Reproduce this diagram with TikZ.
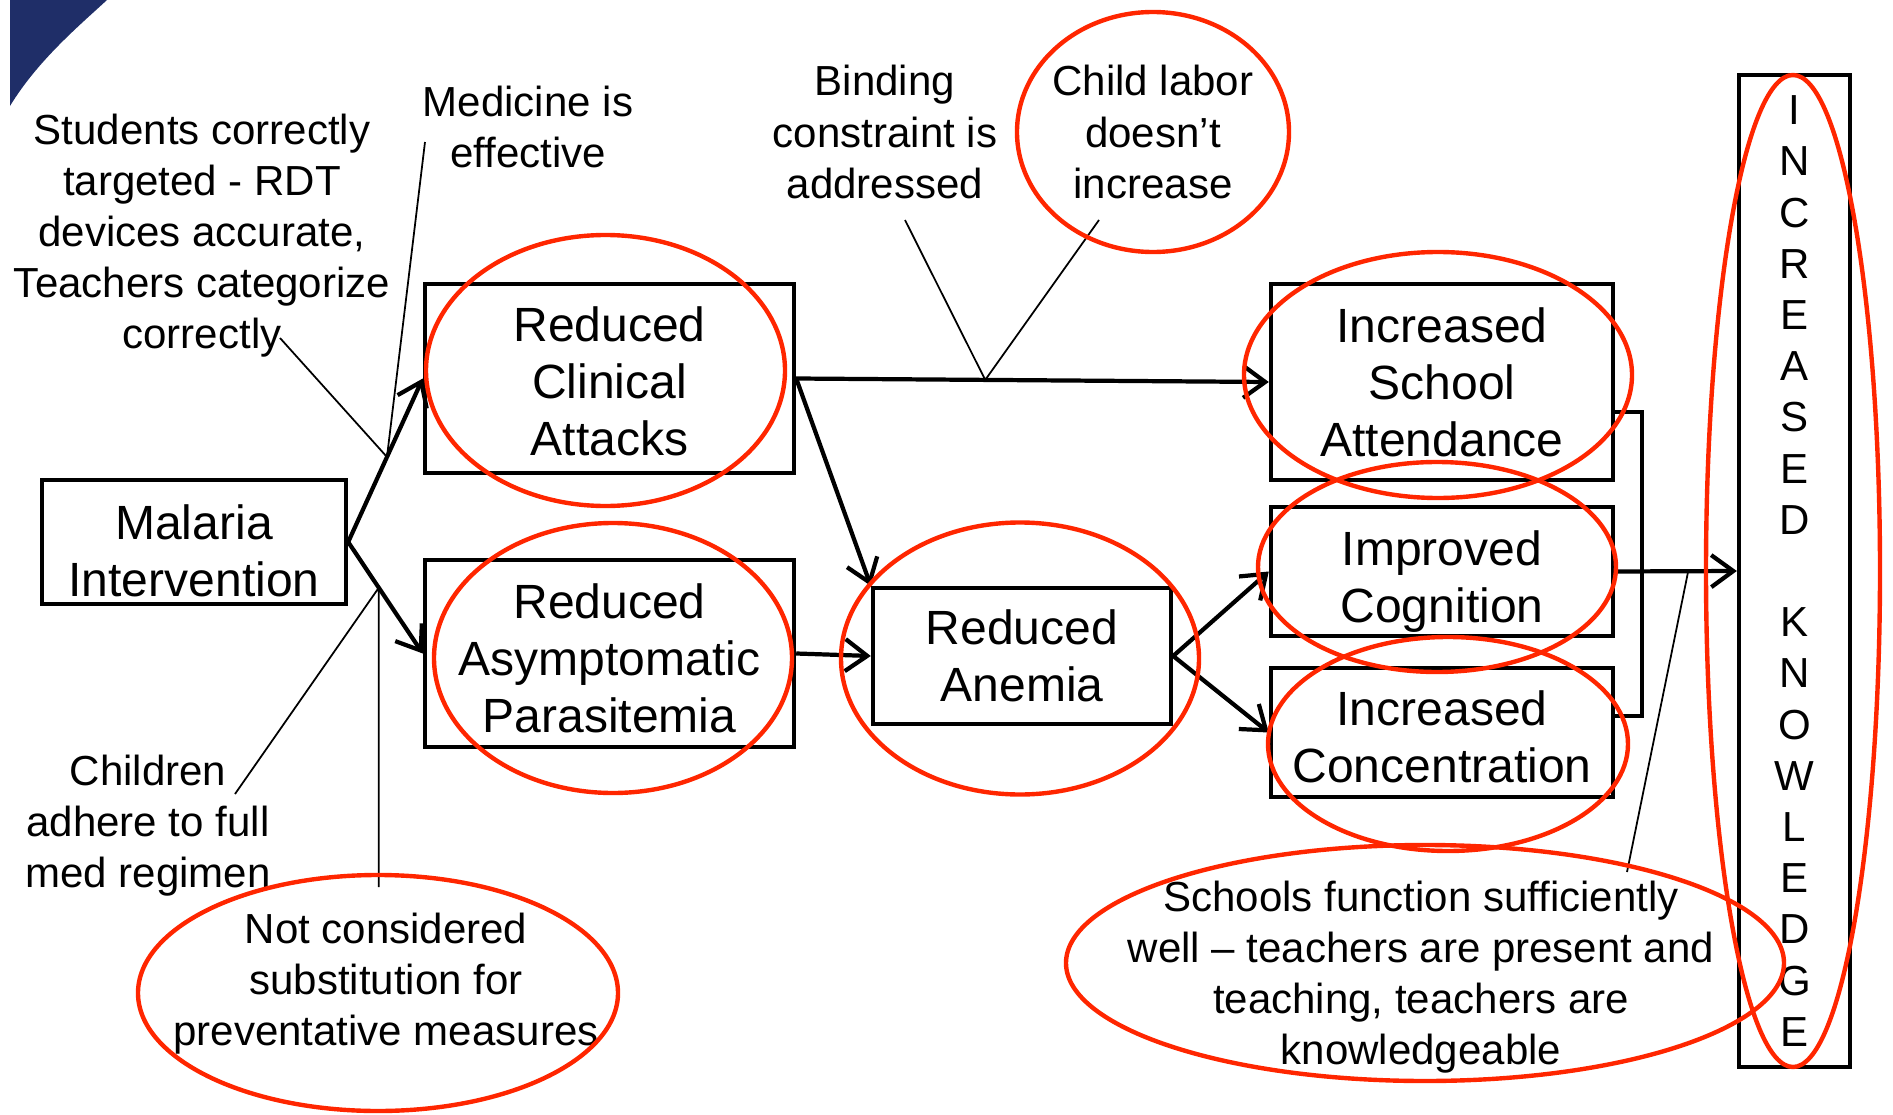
\documentclass[tikz,border=0pt]{standalone}
\usepackage{fontspec}
\setmainfont{Liberation Sans}
\usetikzlibrary{arrows.meta,calc}
\definecolor{ovalred}{RGB}{255,38,0}
\definecolor{navyblue}{RGB}{31,46,104}
\newcommand\bxfont{\fontsize{13.66pt}{16.22pt}\selectfont}
\newcommand\anfont{\fontsize{11.95pt}{14.51pt}\selectfont}
\newcommand\knfont{\fontsize{11.95pt}{14.56pt}\selectfont}
\newcommand\xtop[1]{\rule{0pt}{#1}}
\begin{document}
\begin{tikzpicture}[x=0.01cm,y=-0.01cm,
  bx/.style={draw=black,line width=1.2pt,align=center,inner sep=0pt,font=\bxfont},
  ann/.style={align=center,inner sep=0pt,font=\anfont},
  flow/.style={line width=1.2pt,-{Straight Barb[length=2.2mm,width=3.2mm]}},
  thin/.style={line width=0.5pt},
  oval/.style={draw=ovalred,line width=1.25pt}]
\useasboundingbox (0,0) rectangle (1893,1115);

% corner decoration
\fill[navyblue] (10,0) -- (107,0) .. controls (80,25) and (38,60) .. (10,106) -- cycle;

% boxes
\node[bx,minimum width=3.04cm,minimum height=1.24cm] (mal) at (194,542) {\xtop{0.52cm}Malaria\\Intervention};
\node[bx,minimum width=3.69cm,minimum height=1.89cm] (cla) at (609.5,378.5) {\xtop{0.41cm}Reduced\\Clinical\\Attacks};
\node[bx,minimum width=3.69cm,minimum height=1.87cm] (asy) at (609.5,653.5) {\xtop{0.44cm}Reduced\\Asymptomatic\\Parasitemia};
\node[bx,minimum width=2.98cm,minimum height=1.36cm] (ane) at (1022,656) {Reduced\\Anemia};
\node[bx,minimum width=3.42cm,minimum height=1.96cm] (sch) at (1442,382) {Increased\\School\\Attendance};
\node[bx,minimum width=3.42cm,minimum height=1.29cm] (cog) at (1442,571.5) {\xtop{0.55cm}Improved\\Cognition};
\node[bx,minimum width=3.42cm,minimum height=1.29cm] (con) at (1442,732.5) {\xtop{0.44cm}Increased\\Concentration};
\node[bx,font=\knfont,minimum width=1.11cm,minimum height=9.92cm] (kno) at (1794.5,571)
  {I\\N\\C\\R\\E\\A\\S\\E\\D\\\mbox{}\\K\\N\\O\\W\\L\\E\\D\\G\\E};

% annotation texts
\node[ann] (stu) at (202,235.5) {Students correctly\\targeted - RDT\\devices accurate,\\Teachers categorize\\correctly};
\node[ann] (med) at (528,126.5) {Medicine is\\effective};
\node[ann] (bin) at (885,132) {Binding\\constraint is\\addressed};
\node[ann] (chl) at (1153,132) {Child labor\\doesn’t\\increase};
\node[ann] (chi) at (148,825.5) {Children\\adhere to full\\med regimen};
\node[ann] (notc) at (386,983.5) {Not considered\\substitution for\\preventative measures};
\node[ann] (schf) at (1421,977.5) {Schools function sufficiently\\well – teachers are present and\\teaching, teachers are\\knowledgeable};

% main connectors
\draw[flow] (mal.east) -- (cla.west);
\draw[flow] (mal.east) -- (asy.west);
\draw[flow] (cla.east) -- (sch.west);
\draw[flow] (cla.east) -- (ane.north west);
\draw[flow] (asy.east) -- (ane.west);
\draw[flow] (ane.east) -- (cog.west);
\draw[flow] (ane.east) -- (con.west);
\coordinate (bt) at (1642,412);
\coordinate (bb) at (1642,716);
\draw[line width=1.2pt] (sch.east |- bt) -- (bt) -- (bb) -- (con.east |- bb);
\draw[flow] (cog.east) -- (kno.west);

% meeting points for assumptions
\coordinate (p1) at ($(mal.east)!0.52!(cla.west)$);
\coordinate (p2) at ($(mal.east)!0.41!(asy.west)$);
\coordinate (p3) at ($(cla.east)!0.40!(sch.west)$);
\coordinate (p4) at ($(cog.east)!0.60!(kno.west)$);
\coordinate (e1) at (280,338);
\coordinate (e2) at (425,142);
\coordinate (e3) at (235,794);
\coordinate (e4) at (905,220);
\coordinate (e5) at (1099,220);
\coordinate (e6) at (1627,872);
\draw[thin] (e1) -- (p1) -- (e2);
\draw[thin] (e3) -- (p2) -- (p2 |- 0,887);
\draw[thin] (e4) -- (p3) -- (e5);
\draw[thin] (e6) -- (p4);

% red ovals
\draw[oval] (605.5,370.5) ellipse [x radius=179.5, y radius=135.5];
\draw[oval] (613,658) ellipse [x radius=179, y radius=135];
\draw[oval] (1020,658.5) ellipse [x radius=179, y radius=136];
\draw[oval] (1438,375) ellipse [x radius=194, y radius=123];
\draw[oval] (1437,567) ellipse [x radius=179, y radius=105];
\draw[oval] (1448,744) ellipse [x radius=180, y radius=107];
\draw[oval] (1793,571) ellipse [x radius=87, y radius=496];
\draw[oval] (1153,132) ellipse [x radius=136, y radius=120];
\draw[oval] (378,993) ellipse [x radius=240, y radius=118];
\draw[oval] (1425,963) ellipse [x radius=359, y radius=118];
\end{tikzpicture}
\end{document}
